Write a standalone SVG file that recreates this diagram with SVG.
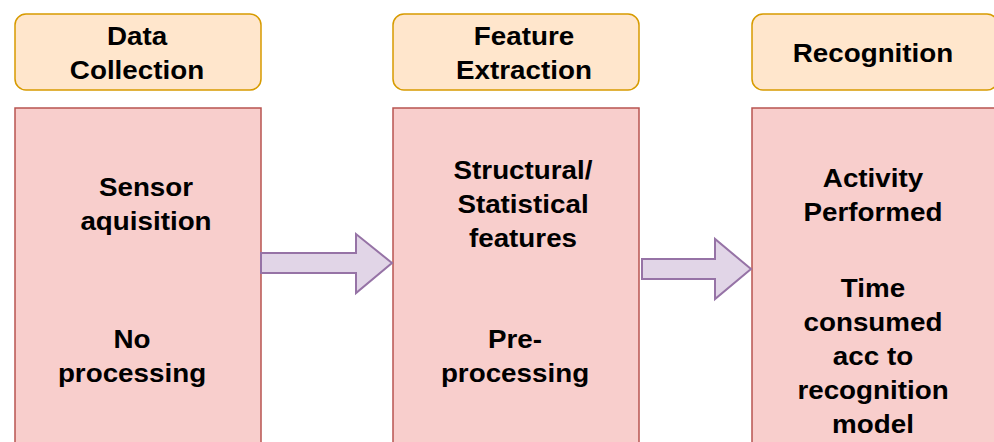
<svg xmlns="http://www.w3.org/2000/svg" width="994" height="442" viewBox="0 0 994 442">
<style>
.hdr{fill:#ffe6cc;stroke:#d79b00;stroke-width:1.5}
.body{fill:#f8cecc;stroke:#b85450;stroke-width:1.5}
.arr{fill:#e1d5e7;stroke:#9673a6;stroke-width:2;stroke-linejoin:miter}
text{font-family:"Liberation Sans",Arial,sans-serif;font-weight:bold;font-size:25.5px;fill:#000;text-anchor:middle}
</style>
<rect width="994" height="442" fill="#ffffff"/>
<g id="header-data-collection">
<rect class="hdr" x="15" y="14" width="246" height="76" rx="11"/>
<g transform="translate(137 0) scale(1.09 1)"><text x="0" y="45">Data</text><text x="0" y="79">Collection</text></g>
</g>
<g id="header-feature-extraction">
<rect class="hdr" x="393" y="14" width="246" height="76" rx="11"/>
<g transform="translate(524 0) scale(1.09 1)"><text x="0" y="45">Feature</text><text x="0" y="79">Extraction</text></g>
</g>
<g id="header-recognition">
<rect class="hdr" x="752" y="14" width="246" height="76" rx="11"/>
<g transform="translate(873 0) scale(1.09 1)"><text x="0" y="62">Recognition</text></g>
</g>
<g id="box-data-collection">
<rect class="body" x="15" y="108" width="246" height="350"/>
<g transform="translate(146 0) scale(1.09 1)"><text x="0" y="196">Sensor</text><text x="0" y="230">aquisition</text></g>
<g transform="translate(132 0) scale(1.09 1)"><text x="0" y="348">No</text><text x="0" y="382">processing</text></g>
</g>
<g id="box-feature-extraction">
<rect class="body" x="393" y="108" width="246" height="350"/>
<g transform="translate(523 0) scale(1.09 1)"><text x="0" y="179">Structural/</text><text x="0" y="213">Statistical</text><text x="0" y="247">features</text></g>
<g transform="translate(515 0) scale(1.09 1)"><text x="0" y="348">Pre-</text><text x="0" y="382">processing</text></g>
</g>
<g id="box-recognition">
<rect class="body" x="752" y="108" width="246" height="350"/>
<g transform="translate(873 0) scale(1.09 1)"><text x="0" y="187">Activity</text><text x="0" y="221">Performed</text><text x="0" y="297">Time</text><text x="0" y="331">consumed</text><text x="0" y="365">acc to</text><text x="0" y="399">recognition</text><text x="0" y="433">model</text></g>
</g>
<g id="connectors">
<path class="arr" d="M261 253 L356 253 L356 234 L392 263 L356 293 L356 273 L261 273 Z"/>
<path class="arr" d="M642 259 L715 259 L715 239 L751 269 L715 299 L715 279 L642 279 Z"/>
</g>
</svg>
